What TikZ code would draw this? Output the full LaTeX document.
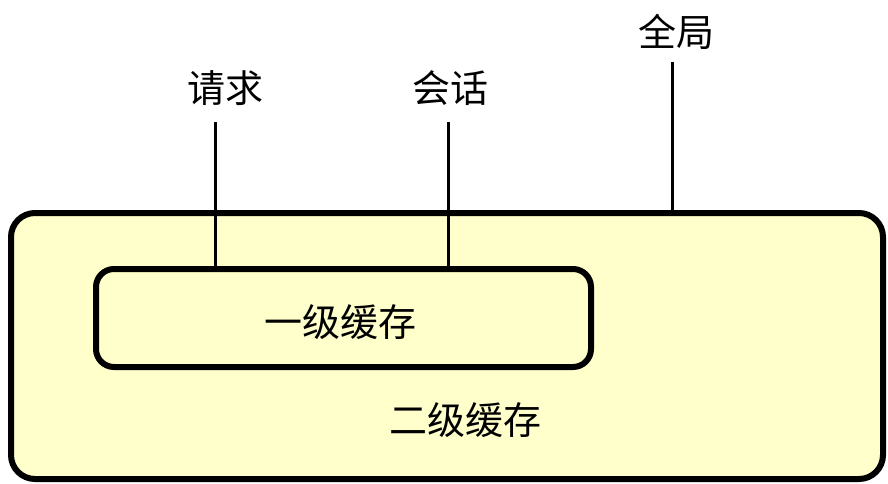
\documentclass[tikz,border=0pt]{standalone}
\usepackage{fontspec}
\newfontfamily\cjk{Noto Sans CJK SC}
\begin{document}
\begin{tikzpicture}[x=1pt,y=-1pt,
  box/.style={draw=black,line width=6pt,fill={rgb,255:red,255;green,255;blue,204}},
  lbl/.style={font=\cjk\fontsize{38}{40}\selectfont,inner sep=0pt},
  lead/.style={line width=3pt}]
\useasboundingbox (0,0) rectangle (888,484);
\node[box,rounded corners=24pt,minimum width=872pt,minimum height=266pt,anchor=north west] (outer) at (8,210) {};
\node[box,rounded corners=18pt,minimum width=495pt,minimum height=98pt,anchor=north west] (inner) at (93,266) {};
\node[lbl] (t1) at (340,322) {一级缓存};
\node[lbl] (t2) at (465,420) {二级缓存};
\node[lbl] (req) at (225,88) {请求};
\node[lbl] (ses) at (450,88) {会话};
\node[lbl] (glb) at (676,32) {全局};
\coordinate (a1) at (215,122); \coordinate (a2) at (215,268);
\coordinate (b1) at (448,122); \coordinate (b2) at (448,268);
\coordinate (c1) at (672,62); \coordinate (c2) at (672,210);
\draw[lead] (a1) -- (a2);
\draw[lead] (b1) -- (b2);
\draw[lead] (c1) -- (c2);
\end{tikzpicture}
\end{document}
